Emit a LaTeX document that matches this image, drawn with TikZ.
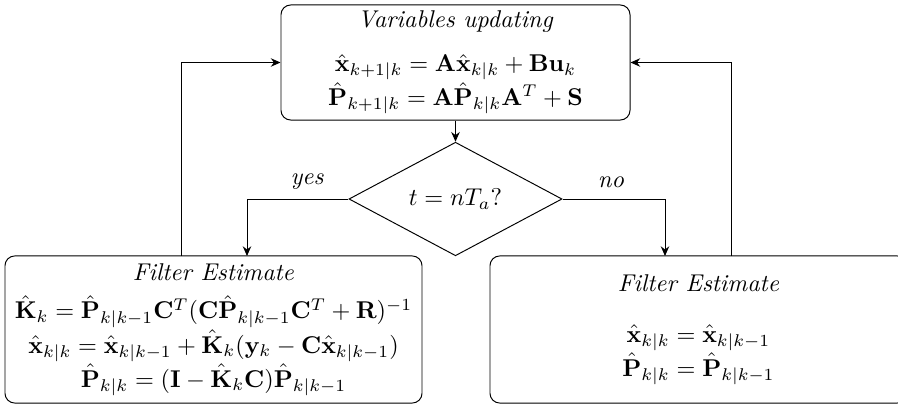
\documentclass[tikz,border=0pt]{standalone}
\usepackage{amsmath}
\usetikzlibrary{shapes.geometric,arrows.meta}
\begin{document}
\begin{tikzpicture}[x=0.412pt,y=-0.412pt,
  box/.style={draw,rounded corners=4pt,align=center,inner sep=0pt},
  decision/.style={draw,diamond,inner sep=0pt,minimum width=87.8pt,minimum height=43.7pt},
  arr/.style={-{Stealth[length=4pt,width=3.5pt]}},
  lbl/.style={font=\itshape}]
\useasboundingbox (0,0) rectangle (898,410);
\node[box,minimum width=143.8pt,minimum height=47.4pt] (top) at (455.5,62.5)
  {\textit{Variables updating}\\[6pt]
   $\hat{\mathbf{x}}_{k+1|k} = \mathbf{A}\hat{\mathbf{x}}_{k|k} + \mathbf{B}\mathbf{u}_k$\\
   $\hat{\mathbf{P}}_{k+1|k} = \mathbf{A}\hat{\mathbf{P}}_{k|k}\mathbf{A}^T + \mathbf{S}$};
\node[decision] (dec) at (455.5,199) {$t = nT_a?$};
\node[box,minimum width=171.8pt,minimum height=60.6pt] (lb) at (213.5,329.5)
  {\textit{Filter Estimate}\\[4pt]
   $\hat{\mathbf{K}}_k = \hat{\mathbf{P}}_{k|k-1}\mathbf{C}^T(\mathbf{C}\hat{\mathbf{P}}_{k|k-1}\mathbf{C}^T+\mathbf{R})^{-1}$\\
   $\hat{\mathbf{x}}_{k|k} = \hat{\mathbf{x}}_{k|k-1} + \hat{\mathbf{K}}_k(\mathbf{y}_k - \mathbf{C}\hat{\mathbf{x}}_{k|k-1})$\\
   $\hat{\mathbf{P}}_{k|k} = (\mathbf{I} - \hat{\mathbf{K}}_k\mathbf{C})\hat{\mathbf{P}}_{k|k-1}$};
\node[box,minimum width=171.8pt,minimum height=60.6pt] (rb) at (698.5,329.5)
  {\textit{Filter Estimate}\\[9pt]
   $\hat{\mathbf{x}}_{k|k} = \hat{\mathbf{x}}_{k|k-1}$\\
   $\hat{\mathbf{P}}_{k|k} = \hat{\mathbf{P}}_{k|k-1}$};
\coordinate (yesend) at (247,256);
\coordinate (noend) at (665,256);
\coordinate (fbl) at (181,256);
\coordinate (fbr) at (731,256);
\draw[arr] (top) -- (dec);
\draw[arr] (dec.west) -| (yesend);
\draw[arr] (dec.east) -| (noend);
\draw[arr] (fbl) |- (top.west);
\draw[arr] (fbr) |- (top.east);
\node[lbl] (yes) at (307,182) {yes};
\node[lbl] (no) at (611,182) {no};
\end{tikzpicture}
\end{document}
